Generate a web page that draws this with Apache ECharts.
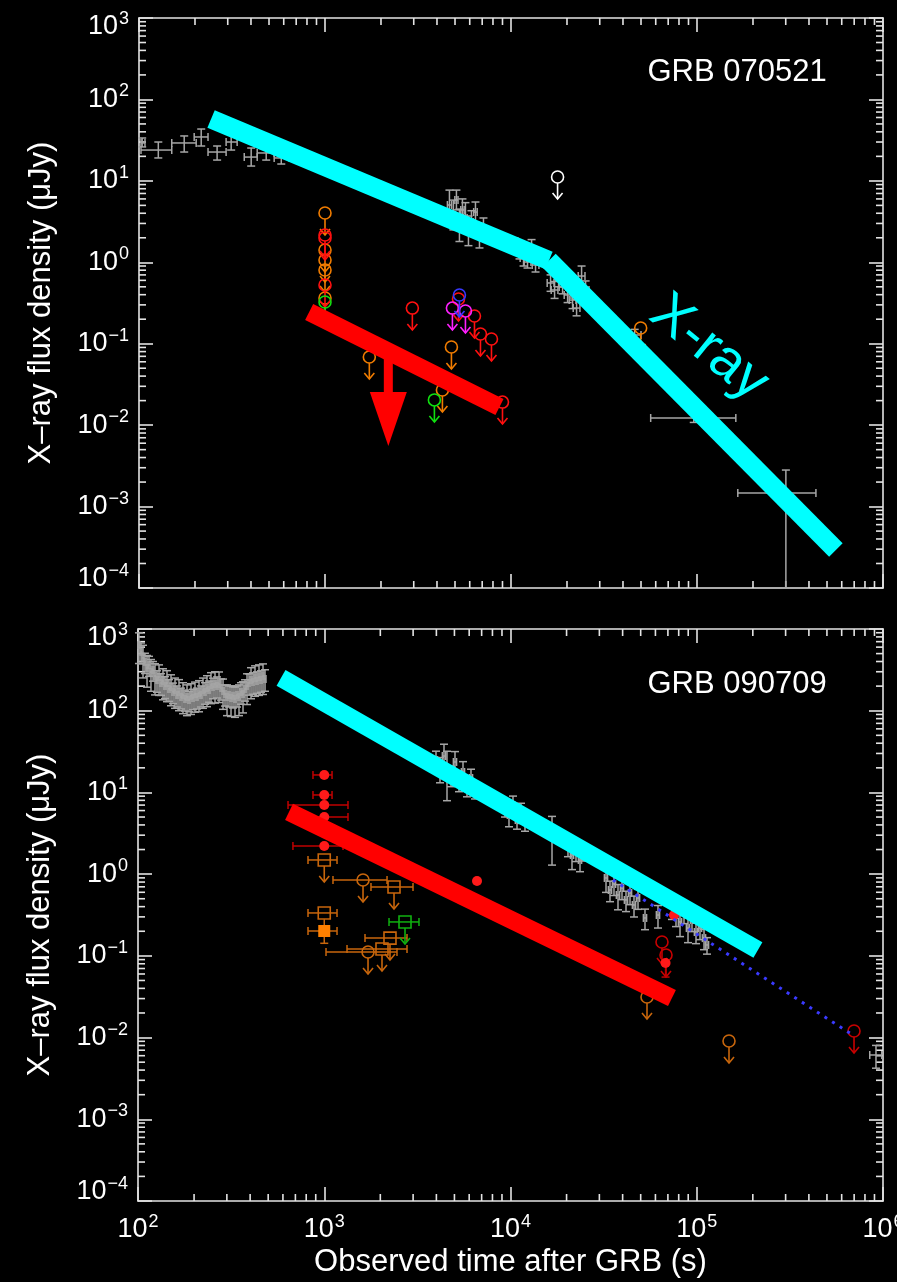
<!DOCTYPE html>
<html>
<head>
<meta charset="utf-8">
<script src="https://cdn.jsdelivr.net/npm/echarts@6/dist/echarts.min.js"></script>
<style>
  html, body { margin: 0; padding: 0; background: #000; }
  #chart { width: 897px; height: 1282px; }
</style>
</head>
<body>
<div id="chart"></div>
<script>
// ---------------- data ----------------
// Axis decades and labels
const timeDecades = [1e2, 1e3, 1e4, 1e5, 1e6];
const fluxDecades = [1e-4, 1e-3, 1e-2, 1e-1, 1, 1e1, 1e2, 1e3];
const minorSteps = [2, 3, 4, 5, 6, 7, 8, 9];
const panelTitles = ['GRB 070521', 'GRB 090709'];
const bandLabel = 'X-ray';
const xTitle = 'Observed time after GRB (s)';
const yTitle = 'X\u2013ray flux density (\u03bcJy)';

// GRB 070521 X-ray light curve: [t, tLo, tHi, flux, fluxLo, fluxHi]
const xrt070521 = [
  [104, 102.5, 107.7, 29.2, 26.1, 33.6],
  [127, 102.5, 150, 23.9, 19.1, 30.0],
  [175, 150, 203, 29.2, 22.6, 35.6],
  [216, 198, 235, 34.6, 26.8, 43.3],
  [263, 235, 294, 22.6, 18.0, 26.8],
  [313, 294, 337, 30.0, 23.9, 36.6],
  [401, 368, 432, 19.6, 15.2, 25.3],
  [483, 432, 533, 22.0, 18.0, 26.8],
  [582, 533, 642, 19.1, 16.1, 22.6],
  [4667, 4550, 4790, 5.05, 3.3, 7.7],
  [4901, 4780, 5030, 3.81, 2.5, 5.8],
  [5089, 4990, 5190, 5.82, 4.4, 7.7],
  [5282, 5170, 5400, 2.87, 1.8, 4.5],
  [5482, 5370, 5600, 4.39, 3.2, 6.0],
  [5689, 5570, 5810, 3.50, 2.3, 5.4],
  [5905, 5780, 6030, 2.49, 1.6, 3.7],
  [6129, 6000, 6260, 3.12, 2.2, 4.3],
  [6441, 6300, 6580, 4.14, 3.1, 5.5],
  [6769, 6620, 6920, 2.16, 1.5, 3.0],
  [7112, 6960, 7270, 2.64, 2.0, 3.5],
  [10443, 10000, 10900, 1.63, 1.3, 2.0],
  [11110, 10650, 11580, 1.337, 1.1, 1.6],
  [11680, 11200, 12180, 1.129, 0.9, 1.4],
  [12270, 11770, 12800, 1.008, 0.85, 1.2],
  [12900, 12370, 13450, 1.415, 1.07, 1.9],
  [13550, 13000, 14130, 0.926, 0.76, 1.13],
  [16320, 15650, 17020, 0.557, 0.44, 0.70],
  [17150, 16450, 17880, 0.457, 0.36, 0.58],
  [18020, 17280, 18790, 0.641, 0.50, 0.83],
  [18940, 18160, 19750, 0.497, 0.41, 0.61],
  [20150, 19320, 21010, 0.397, 0.32, 0.50],
  [21430, 20550, 22350, 0.344, 0.27, 0.43],
  [22520, 21600, 23480, 0.274, 0.22, 0.35],
  [23960, 22980, 24990, 0.678, 0.51, 0.90],
  [25180, 24150, 26260, 0.457, 0.35, 0.59],
  [46230, 43000, 50000, 0.128, 0.11, 0.15],
  [96050, 56360, 161700, 0.01224, 0.0108, 0.0139],
  [300500, 165700, 435900, 0.00147, 0.0001, 0.00281]
];

// GRB 070521 optical/NIR upper limits: [t, flux]
const ulOrange070521 = [[1000, 4.03], [1000, 1.415], [1000, 1.067], [1000, 0.804], [1000, 0.364],
  [1731, 0.0687], [4783, 0.0911], [4278, 0.0270], [49800, 0.156]];
const ulRed070521 = [[1000, 2.16], [1000, 1.99], [1000, 0.526], [2949, 0.274], [5220, 0.354],
  [6362, 0.219], [6852, 0.1316], [7853, 0.1142], [9000, 0.0192]];
const ulGreen070521 = [[1000, 0.325], [3874, 0.0204]];
const ulBlue070521 = [[5282, 0.397]];
const ulMagenta070521 = [[4842, 0.274], [5689, 0.252]];
const ulWhite070521 = [[17800, 11.15]];

// GRB 070521 model bands
const xrayBand070521a = [[244, 57.5], [16000, 1.05]];
const xrayBand070521b = [[16000, 1.05], [558000, 0.000293]];
const optBand070521 = [[822, 0.245], [8670, 0.0167]];
const optArrow070521 = [[2190, 0.0727, 0.0255, 0.00555]];   // [t, start, head base, tip]

// GRB 090709 X-ray light curve: [t, dt, flux, dflux]
const xrt090709 = [
  [101.2, 1.2, 638, 260], [103.8, 1.2, 524, 150], [106.4, 1.3, 442, 190], [109.0, 1.3, 395, 110],
  [111.8, 1.3, 334, 140], [114.6, 1.4, 363, 100], [117.4, 1.4, 298, 125], [120.4, 1.4, 315, 85],
  [123.4, 1.5, 266, 110], [126.5, 1.5, 238, 70], [129.7, 1.6, 259, 105], [132.9, 1.6, 219, 65],
  [136.2, 1.6, 231, 95], [139.6, 1.7, 201, 60], [143.1, 1.7, 219, 90], [146.7, 1.8, 185, 55],
  [150.4, 1.8, 195, 80], [154.2, 1.9, 170, 48], [158.0, 1.9, 179, 72], [162.0, 1.9, 156, 45],
  [166.0, 2.0, 170, 70], [170.2, 2.0, 147, 42], [174.4, 2.1, 156, 64], [178.8, 2.1, 139, 40],
  [183.3, 2.2, 147, 60], [187.9, 2.3, 135, 38], [192.6, 2.3, 152, 62], [197.4, 2.4, 143, 40],
  [202.3, 2.4, 160, 64], [207.4, 2.5, 147, 42], [212.6, 2.6, 165, 68], [217.9, 2.6, 156, 45],
  [223.4, 2.7, 179, 72], [229.0, 2.7, 170, 50], [234.7, 2.8, 190, 78], [240.6, 2.9, 179, 52],
  [246.6, 3.0, 207, 85], [252.8, 3.0, 195, 55], [259.1, 3.1, 212, 88], [265.6, 3.2, 201, 58],
  [272.3, 3.3, 212, 86], [279.1, 3.3, 190, 55], [286.1, 3.4, 174, 70], [293.2, 3.5, 160, 46],
  [300.6, 3.6, 147, 60], [308.1, 3.7, 156, 45], [315.8, 3.8, 143, 58], [323.7, 3.9, 152, 44],
  [331.8, 4.0, 139, 56], [340.1, 4.1, 156, 45], [348.6, 4.2, 147, 60], [357.3, 4.3, 170, 50],
  [366.3, 4.4, 160, 66], [375.5, 4.5, 185, 54], [384.9, 4.6, 201, 82], [394.5, 4.7, 219, 64],
  [404.4, 4.9, 238, 98], [414.5, 5.0, 225, 66], [424.9, 5.1, 252, 102], [435.5, 5.2, 231, 68],
  [446.4, 5.4, 259, 105], [457.6, 5.5, 238, 70], [469.0, 5.6, 266, 108], [480.8, 5.8, 245, 72],
  [3981, 80, 24.96, 7], [4183, 80, 19.92, 6.8], [4395, 90, 27.9, 11], [4561, 90, 19.92, 12],
  [4792, 100, 16.36, 4.6], [5035, 100, 23.59, 8], [5290, 110, 14.21, 4], [5559, 110, 17.80, 6],
  [5840, 120, 12.34, 3.5], [6137, 120, 15.03, 4.2], [6448, 130, 10.72, 2.4],
  [9344, 190, 6.45, 1.45], [9815, 200, 5.30, 1.5], [10313, 210, 7.02, 2], [10837, 220, 4.60, 1.05],
  [11386, 230, 5.77, 1.6], [11962, 240, 4.35, 1.0], [16706, 330, 3.19, 1.9],
  [20354, 410, 2.275, 0.64], [21390, 430, 1.716, 0.58], [22472, 450, 1.976, 0.55],
  [23614, 470, 1.491, 0.42], [24510, 490, 1.867, 0.42],
  [32570, 650, 0.898, 0.30], [34210, 680, 0.640, 0.18], [35950, 720, 0.758, 0.21],
  [37770, 760, 0.556, 0.19], [39690, 790, 0.677, 0.19], [41700, 830, 0.483, 0.135],
  [43820, 880, 0.588, 0.165], [46040, 920, 0.419, 0.12], [48380, 970, 0.511, 0.14],
  [52740, 1050, 0.291, 0.082], [61930, 1240, 0.316, 0.097],
  [73640, 1470, 0.419, 0.14], [77370, 1550, 0.316, 0.088], [81310, 1630, 0.260, 0.088],
  [85420, 1710, 0.344, 0.096], [89760, 1800, 0.219, 0.074], [94300, 1890, 0.275, 0.077],
  [99080, 1980, 0.196, 0.055], [104100, 2080, 0.219, 0.061], [109400, 2190, 0.165, 0.046],
  [113500, 2270, 0.136, 0.031], [916900, 68000, 0.00612, 0.0019]
];

// GRB 090709 optical/NIR points: [t, flux, tLo, tHi, fluxLo, fluxHi, upperLimit]
const redDet090709 = [
  [1000, 16.36, 870, 1101, 0, 0, 0], [1000, 9.31, 870, 1101, 0, 0, 0],
  [1000, 7.02, 639, 1341, 0, 0, 0], [1000, 5.01, 741, 1341, 0, 0, 0],
  [1000, 2.21, 679, 1261, 0, 0, 0], [6610, 0.825, 0, 0, 0, 0, 0],
  [68000, 0.0818, 0, 0, 0.055, 0.0818, 0], [75500, 0.316, 0, 0, 0, 0, 0]
];
const redLim090709 = [[65070, 0.1478, 0, 0, 0, 0, 1], [68380, 0.1025, 0, 0, 0, 0, 1],
  [698900, 0.01204, 0, 0, 0, 0, 1]];
const orangeSq090709 = [[1000, 1.491, 818, 1171, 0, 0, 1], [2369, 0.696, 1782, 2996, 0, 0, 1],
  [2254, 0.165, 1655, 2782, 0, 0, 1], [2042, 0.1214, 1325, 2782, 0, 0, 1],
  [1000, 0.335, 818, 1171, 0, 0, 0]];
const orangeCirc090709 = [[1615, 0.848, 1114, 2173, 0, 0, 1], [1718, 0.1115, 1022, 2458, 0, 0, 1],
  [54060, 0.0314, 0, 0, 0, 0, 1], [149000, 0.00908, 0, 0, 0, 0, 1]];
const orangeFilled090709 = [[1000, 0.2015, 818, 1171, 0.1425, 0.28, 0]];
const greenSq090709 = [[2714, 0.260, 2227, 3226, 0, 0, 1]];

// GRB 090709 model bands
const xrayBand090709 = [[586, 252], [213000, 0.118]];
const optBand090709 = [[647, 5.77], [73600, 0.0305]];
const xrayExtrap090709 = [[35500, 0.85], [690000, 0.0107]];

// ---------------- styling ----------------
const FONT = '"Liberation Sans", Arial, Helvetica, sans-serif';
const AXIS = '#e4e4e4';
const GREY = '#a6a6a6';
const CYAN = '#00ffff';
const RED = '#ff0000';

const grids = [
  { left: 139, top: 18, width: 744, height: 570, outerBoundsMode: 'none' },
  { left: 138, top: 629, width: 745, height: 572, outerBoundsMode: 'none' }
];

function powerText(v) {
  const e = Math.round(Math.log10(v));
  return e < 0 ? '\u2212' + (-e) : String(e);
}

const labelRich = {
  b: { fontSize: 27, fontFamily: FONT, color: '#fff' },
  s: { fontSize: 18, fontFamily: FONT, color: '#fff', padding: [0, 0, 16, 1] },
  hb: { fontSize: 27, fontFamily: FONT, color: '#fff', padding: [18, 0, 0, 0] },
  hs: { fontSize: 18, fontFamily: FONT, color: '#fff', padding: [18, 0, 16, 1] },
  lb: { fontSize: 27, fontFamily: FONT, color: '#fff', padding: [0, 0, 18, 0] },
  ls: { fontSize: 18, fontFamily: FONT, color: '#fff', padding: [0, 0, 34, 1] }
};

function yLabel(v) {
  const e = Math.round(Math.log10(v));
  const k = e === 3 ? 'h' : (e === -4 ? 'l' : '');
  return '{' + k + 'b|10}{' + k + 's|' + powerText(v) + '}';
}
function xLabel(v) {
  return '{b|10}{s|' + powerText(v) + '}';
}

function logAxis(gridIndex, position, isX, extra) {
  return Object.assign({
    type: 'log', logBase: 10, gridIndex: gridIndex, position: position,
    min: isX ? timeDecades[0] : fluxDecades[0],
    max: isX ? timeDecades[timeDecades.length - 1] : fluxDecades[fluxDecades.length - 1],
    splitNumber: isX ? timeDecades.length - 1 : fluxDecades.length - 1,
    axisLine: { show: true, onZero: false, lineStyle: { color: AXIS, width: 1.6 } },
    axisTick: { show: true, inside: true, length: 14, lineStyle: { color: AXIS, width: 1.6 } },
    axisLabel: { show: false },
    splitLine: { show: false },
    minorTick: { show: false },
    minorSplitLine: { show: false }
  }, extra || {});
}

const xAxes = [
  logAxis(0, 'bottom', true),
  logAxis(0, 'top', true),
  logAxis(1, 'bottom', true, {
    axisLabel: { show: true, margin: 12, formatter: xLabel, rich: labelRich },
    name: xTitle, nameLocation: 'middle', nameGap: 46,
    nameTextStyle: { color: '#fff', fontSize: 31, fontFamily: FONT }
  }),
  logAxis(1, 'top', true)
];
const yAxes = [0, 1].map(g => [
  logAxis(g, 'left', false, {
    axisLabel: { show: true, margin: 10, formatter: yLabel, rich: labelRich },
    name: yTitle, nameLocation: 'middle', nameGap: 82, nameRotate: 90,
    nameTextStyle: { color: '#fff', fontSize: 31, fontFamily: FONT }
  }),
  logAxis(g, 'right', false)
]).flat();

// minor tick positions within each decade
const minorTime = [];
timeDecades.slice(0, -1).forEach(d => minorSteps.forEach(m => minorTime.push([d * m, 1])));
const minorFlux = [];
fluxDecades.slice(0, -1).forEach(d => minorSteps.forEach(m => minorFlux.push([1000, d * m])));

const MINOR = 7;
function seg(x1, y1, x2, y2, style) {
  return { type: 'line', shape: { x1: x1, y1: y1, x2: x2, y2: y2 }, style: style };
}
function xMinorRender(params, api) {
  const cs = params.coordSys;
  const px = api.coord([api.value(0), api.value(1)])[0];
  const st = { stroke: AXIS, lineWidth: 1.6 };
  return { type: 'group', children: [
    seg(px, cs.y + cs.height, px, cs.y + cs.height - MINOR, st),
    seg(px, cs.y, px, cs.y + MINOR, st)
  ] };
}
function yMinorRender(params, api) {
  const cs = params.coordSys;
  const py = api.coord([api.value(0), api.value(1)])[1];
  const st = { stroke: AXIS, lineWidth: 1.6 };
  return { type: 'group', children: [
    seg(cs.x, py, cs.x + MINOR, py, st),
    seg(cs.x + cs.width, py, cs.x + cs.width - MINOR, py, st)
  ] };
}

// error-bar crosses: value dims [t, tLo, tHi, f, fLo, fHi]
function crossRender(params, api) {
  const t = api.value(0), tLo = api.value(1), tHi = api.value(2);
  const f = api.value(3), fLo = api.value(4), fHi = api.value(5);
  const c = api.coord([t, f]);
  const a = api.coord([tLo, f])[0], b = api.coord([tHi, f])[0];
  const lo = api.coord([t, fLo])[1], hi = api.coord([t, fHi])[1];
  const st = { stroke: GREY, lineWidth: 1.5 };
  const h = 4;
  return { type: 'group', children: [
    seg(a, c[1], b, c[1], st), seg(a, c[1] - h, a, c[1] + h, st), seg(b, c[1] - h, b, c[1] + h, st),
    seg(c[0], lo, c[0], hi, st), seg(c[0] - h, lo, c[0] + h, lo, st), seg(c[0] - h, hi, c[0] + h, hi, st)
  ] };
}

// photometric points: value dims [t, f, tLo, tHi, fLo, fHi, upperLimit]
function markRender(shape, color, barColor) {
  return function (params, api) {
    const t = api.value(0), f = api.value(1);
    const tLo = api.value(2), tHi = api.value(3), fLo = api.value(4), fHi = api.value(5);
    const lim = api.value(6);
    const c = api.coord([t, f]);
    const kids = [];
    const eb = { stroke: barColor || color, lineWidth: 1.5 };
    const st = { stroke: color, lineWidth: 1.6, fill: null };
    if (tLo > 0 && tHi > 0) {
      const a = api.coord([tLo, f])[0], b = api.coord([tHi, f])[0];
      kids.push(seg(a, c[1], b, c[1], eb), seg(a, c[1] - 4, a, c[1] + 4, eb), seg(b, c[1] - 4, b, c[1] + 4, eb));
    }
    if (fLo > 0 && fHi > 0) {
      const lo = api.coord([t, fLo])[1], hi = api.coord([t, fHi])[1];
      kids.push(seg(c[0], lo, c[0], hi, eb), seg(c[0] - 4, lo, c[0] + 4, lo, eb));
    }
    if (lim) {
      kids.push(seg(c[0], c[1] + 6, c[0], c[1] + 22, st));
      kids.push({ type: 'polyline', shape: { points: [[c[0] - 5, c[1] + 16], [c[0], c[1] + 22], [c[0] + 5, c[1] + 16]] }, style: st });
    }
    if (shape === 'circle') {
      kids.push({ type: 'circle', shape: { cx: c[0], cy: c[1], r: 6 }, style: st });
    } else if (shape === 'dot') {
      kids.push({ type: 'circle', shape: { cx: c[0], cy: c[1], r: 5 }, style: { fill: color } });
    } else if (shape === 'square') {
      kids.push({ type: 'rect', shape: { x: c[0] - 6, y: c[1] - 6, width: 12, height: 12 }, style: st });
    } else if (shape === 'fsquare') {
      kids.push({ type: 'rect', shape: { x: c[0] - 6, y: c[1] - 6, width: 12, height: 12 }, style: { fill: color } });
    }
    return { type: 'group', children: kids };
  };
}

function asLimits(rows) { return rows.map(r => [r[0], r[1], 0, 0, 0, 0, 1]); }
function asCross(rows) { return rows.map(r => [r[0], r[0] - r[1], r[0] + r[1], r[2], r[2] - r[3], r[2] + r[3]]); }

function customSeries(g, data, renderItem, z) {
  return {
    type: 'custom', xAxisIndex: g * 2, yAxisIndex: g * 2, data: data,
    renderItem: renderItem, encode: { x: 0, y: 1 }, silent: true, animation: false, z: z || 2
  };
}
function crossSeries(g, data) {
  return {
    type: 'custom', xAxisIndex: g * 2, yAxisIndex: g * 2, data: data,
    renderItem: crossRender, encode: { x: 0, y: 3 }, silent: true, animation: false, z: 2
  };
}
function bandSeries(g, data, color, width, z, type) {
  return {
    type: 'line', xAxisIndex: g * 2, yAxisIndex: g * 2, data: data, showSymbol: false, symbol: 'none',
    lineStyle: { color: color, width: width, cap: 'butt', type: type || 'solid' },
    silent: true, animation: false, z: z || 5
  };
}

function arrowRender(params, api) {
  const t = api.value(0);
  const s = api.coord([t, api.value(1)]);
  const b = api.coord([t, api.value(2)]);
  const tip = api.coord([t, api.value(3)]);
  return { type: 'group', children: [
    { type: 'rect', shape: { x: s[0] - 4.5, y: s[1], width: 9, height: b[1] - s[1] + 1 }, style: { fill: RED } },
    { type: 'polygon', shape: { points: [[b[0] - 18.5, b[1]], [b[0] + 18.5, b[1]], [tip[0], tip[1]]] }, style: { fill: RED } }
  ] };
}

const series = [];
[0, 1].forEach(g => {
  series.push(customSeries(g, minorTime, xMinorRender, 1));
  series.push(customSeries(g, minorFlux, yMinorRender, 1));
});

// top panel: GRB 070521
series.push(crossSeries(0, xrt070521));
series.push(customSeries(0, asLimits(ulOrange070521), markRender('circle', '#f07c00'), 3));
series.push(customSeries(0, asLimits(ulRed070521), markRender('circle', '#ff1010'), 3));
series.push(customSeries(0, asLimits(ulGreen070521), markRender('circle', '#10e010'), 3));
series.push(customSeries(0, asLimits(ulMagenta070521), markRender('circle', '#ff20ff'), 3));
series.push(customSeries(0, asLimits(ulBlue070521), markRender('circle', '#3838ff'), 3));
series.push(customSeries(0, asLimits(ulWhite070521), markRender('circle', '#ffffff'), 3));
series.push(bandSeries(0, xrayBand070521a, CYAN, 19));
series.push(bandSeries(0, xrayBand070521b, CYAN, 19));
series.push(bandSeries(0, optBand070521, RED, 18));
series.push(customSeries(0, optArrow070521, arrowRender, 6));

// bottom panel: GRB 090709
series.push(crossSeries(1, asCross(xrt090709)));
series.push(customSeries(1, orangeSq090709, markRender('square', '#c8660c'), 3));
series.push(customSeries(1, orangeCirc090709, markRender('circle', '#c8660c'), 3));
series.push(customSeries(1, orangeFilled090709, markRender('fsquare', '#ff8000', '#c8660c'), 3));
series.push(customSeries(1, greenSq090709, markRender('square', '#10b010'), 3));
series.push(customSeries(1, redLim090709, markRender('circle', '#c80000'), 3));
series.push(customSeries(1, redDet090709, markRender('dot', '#ff1a1a', '#c00000'), 3));
series.push(bandSeries(1, xrayExtrap090709, '#3a3aff', 3, 4, [3, 6]));
series.push(bandSeries(1, xrayBand090709, CYAN, 18));
series.push(bandSeries(1, optBand090709, RED, 18));

const chart = echarts.init(document.getElementById('chart'), null, { renderer: 'canvas', width: 897, height: 1282 });
chart.setOption({
  backgroundColor: '#000',
  animation: false,
  grid: grids,
  xAxis: xAxes,
  yAxis: yAxes,
  series: series,
  graphic: [
    { type: 'text', x: 737, y: 72, style: { text: panelTitles[0], fill: '#fff', fontSize: 31, fontFamily: FONT, align: 'center', verticalAlign: 'middle' } },
    { type: 'text', x: 737, y: 684, style: { text: panelTitles[1], fill: '#fff', fontSize: 31, fontFamily: FONT, align: 'center', verticalAlign: 'middle' } },
    { type: 'text', x: 709, y: 348, rotation: -0.68, style: { text: bandLabel, fill: CYAN, fontSize: 56, fontFamily: FONT, align: 'center', verticalAlign: 'middle' } }
  ]
});
</script>
</body>
</html>
